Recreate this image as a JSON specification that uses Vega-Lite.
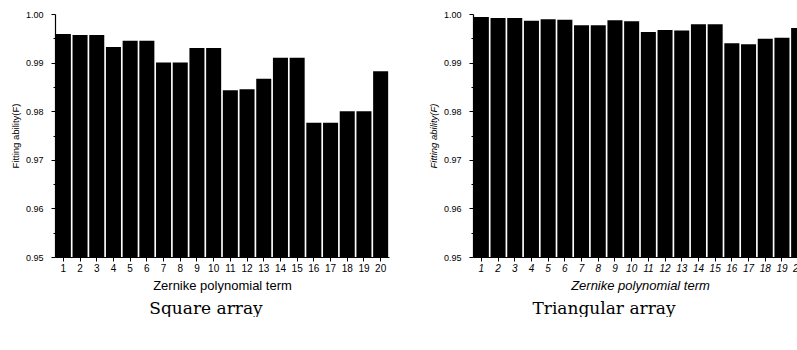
{
  "$schema": "https://vega.github.io/schema/vega-lite/v6.json",
  "padding": {"left": 10, "top": 10, "right": 0, "bottom": 0},
  "background": "white",
  "config": {
    "view": {"stroke": null},
    "font": "Liberation Sans",
    "axis": {"grid": false, "domainColor": "black", "tickColor": "black", "labelColor": "black", "titleColor": "black", "domainWidth": 1.2, "tickWidth": 1, "labelFont": "Liberation Sans", "titleFont": "Liberation Sans", "titleFontWeight": "normal"},
    "title": {"font": "DejaVu Serif", "fontSize": 17, "fontWeight": "normal", "color": "black", "orient": "bottom", "frame": "group", "anchor": "middle"}
  },
  "datasets": {
    "square": [
      {"term": 1, "F": 0.9959}, {"term": 2, "F": 0.9957}, {"term": 3, "F": 0.9957}, {"term": 4, "F": 0.9932},
      {"term": 5, "F": 0.9945}, {"term": 6, "F": 0.9945}, {"term": 7, "F": 0.9900}, {"term": 8, "F": 0.9900},
      {"term": 9, "F": 0.9930}, {"term": 10, "F": 0.9930}, {"term": 11, "F": 0.9843}, {"term": 12, "F": 0.9845},
      {"term": 13, "F": 0.9867}, {"term": 14, "F": 0.9910}, {"term": 15, "F": 0.9910}, {"term": 16, "F": 0.9776},
      {"term": 17, "F": 0.9776}, {"term": 18, "F": 0.9800}, {"term": 19, "F": 0.9800}, {"term": 20, "F": 0.9882}
    ],
    "triangular": [
      {"term": 1, "F": 0.9994}, {"term": 2, "F": 0.9992}, {"term": 3, "F": 0.9992}, {"term": 4, "F": 0.9986},
      {"term": 5, "F": 0.9989}, {"term": 6, "F": 0.9988}, {"term": 7, "F": 0.9977}, {"term": 8, "F": 0.9977},
      {"term": 9, "F": 0.9987}, {"term": 10, "F": 0.9985}, {"term": 11, "F": 0.9963}, {"term": 12, "F": 0.9967},
      {"term": 13, "F": 0.9966}, {"term": 14, "F": 0.9979}, {"term": 15, "F": 0.9979}, {"term": 16, "F": 0.9940},
      {"term": 17, "F": 0.9938}, {"term": 18, "F": 0.9949}, {"term": 19, "F": 0.9951}, {"term": 20, "F": 0.9971}
    ]
  },
  "hconcat": [
    {
      "width": 334,
      "height": 243,
      "data": {"name": "square"},
      "title": {"text": "Square array", "offset": 9, "dx": -16},
      "mark": {"type": "bar", "color": "black"},
      "encoding": {
        "x": {"field": "term", "type": "ordinal", "sort": null,
          "scale": {"paddingInner": 0.1, "paddingOuter": 0.05},
          "axis": {"title": "Zernike polynomial term", "labelAngle": 0, "labelFontSize": 10, "titleFontSize": 13, "tickSize": 4, "labelPadding": 2, "titlePadding": 6}},
        "y": {"field": "F", "type": "quantitative",
          "scale": {"domain": [0.95, 1.0], "zero": false, "nice": false},
          "axis": {"title": "Fitting ability(F)", "values": [0.95, 0.955, 0.96, 0.965, 0.97, 0.975, 0.98, 0.985, 0.99, 0.995, 1.0],
            "labelExpr": "round(datum.value*1000) % 10 == 0 ? format(datum.value, '.2f') : ''",
            "tickSize": {"condition": {"test": "round(datum.value*1000) % 10 == 0", "value": 4}, "value": 2},
            "labelFontSize": 9, "titleFontSize": 9.5, "labelPadding": 8, "titlePadding": 5}},
        "y2": {"datum": 0.95}
      }
    },
    {
      "width": 334,
      "height": 243,
      "data": {"name": "triangular"},
      "title": {"text": "Triangular array", "offset": 9, "dx": -36},
      "mark": {"type": "bar", "color": "black"},
      "encoding": {
        "x": {"field": "term", "type": "ordinal", "sort": null,
          "scale": {"paddingInner": 0.1, "paddingOuter": 0.05},
          "axis": {"title": "Zernike polynomial term", "labelAngle": 0, "labelFontSize": 10, "labelFontStyle": "italic", "titleFontSize": 13, "titleFontStyle": "italic", "tickSize": 4, "labelPadding": 2, "titlePadding": 6}},
        "y": {"field": "F", "type": "quantitative",
          "scale": {"domain": [0.95, 1.0], "zero": false, "nice": false},
          "axis": {"title": "Fitting ability(F)", "values": [0.95, 0.955, 0.96, 0.965, 0.97, 0.975, 0.98, 0.985, 0.99, 0.995, 1.0],
            "labelExpr": "round(datum.value*1000) % 10 == 0 ? format(datum.value, '.2f') : ''",
            "tickSize": {"condition": {"test": "round(datum.value*1000) % 10 == 0", "value": 4}, "value": 2},
            "labelFontSize": 9, "titleFontSize": 9.5, "titleFontStyle": "italic", "labelPadding": 8, "titlePadding": 5}},
        "y2": {"datum": 0.95}
      }
    }
  ],
  "spacing": 39
}
